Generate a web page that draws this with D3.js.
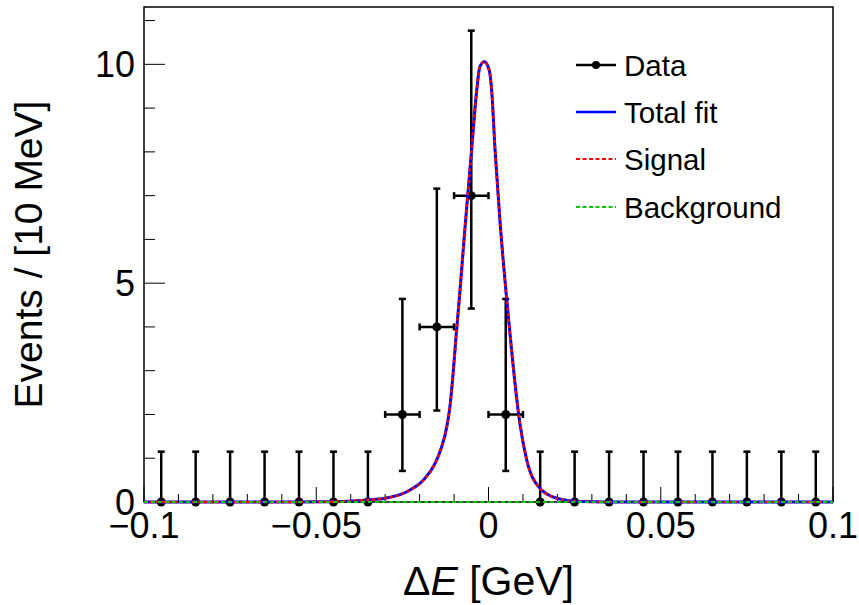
<!DOCTYPE html>
<html lang="en">
<head>
  <meta charset="UTF-8">
  <title>Delta E fit</title>
  <script src="https://d3js.org/d3.v7.min.js"></script>
  <style>
    body { margin: 0; background: #fff; }
    svg { display: block; font-family: "Liberation Sans", Arial, Helvetica, sans-serif; }
  </style>
</head>
<body>
<svg width="859" height="605"></svg>
<script>
// binned data: bin centres, counts and asymmetric (Poisson) error bar limits
const binCenters = [-0.095, -0.085, -0.075, -0.065, -0.055, -0.045, -0.035, -0.025, -0.015, -0.005,
                    0.005, 0.015, 0.025, 0.035, 0.045, 0.055, 0.065, 0.075, 0.085, 0.095];
const counts     = [0, 0, 0, 0, 0, 0, 0, 2, 4, 7, 2, 0, 0, 0, 0, 0, 0, 0, 0, 0];
const errLow     = [0, 0, 0, 0, 0, 0, 0, 0.71, 2.09, 4.42, 0.71, 0, 0, 0, 0, 0, 0, 0, 0, 0];
const errHigh    = [1.15, 1.15, 1.15, 1.15, 1.15, 1.15, 1.15, 4.64, 7.16, 10.77, 4.64,
                    1.15, 1.15, 1.15, 1.15, 1.15, 1.15, 1.15, 1.15, 1.15];
const binHalfWidth = 0.005;

// fitted curve (signal == total fit, background ~ 0)
const fitX = [-0.1, -0.06, -0.045, -0.0354, -0.030, -0.0237, -0.0189, -0.0155, -0.0136, -0.0121,
              -0.0112, -0.0102, -0.0094, -0.0085, -0.0068, -0.0049, -0.0034, -0.0025, -0.0012,
              0.0002, 0.0009, 0.0019, 0.0033, 0.0053, 0.0067, 0.0087, 0.0111, 0.0145, 0.0198,
              0.0266, 0.035, 0.1];
const fitY = [0, 0, 0.008, 0.046, 0.085, 0.235, 0.50, 0.88, 1.26, 1.72,
              2.18, 3.0, 3.8, 4.62, 6.29, 8.05, 9.42, 9.95, 10.06,
              9.87, 9.42, 8.05, 6.45, 4.62, 3.47, 2.03, 0.96, 0.35, 0.085,
              0.01, 0, 0];
const bkgX = [-0.1, 0.1];
const bkgY = [0, 0];

const xMajor = [-0.1, -0.05, 0, 0.05, 0.1];
const xLabels = ["\u22120.1", "\u22120.05", "0", "0.05", "0.1"];
const yMajor = [0, 5, 10];
const yLabels = ["0", "5", "10"];

const legendItems = ["Data", "Total fit", "Signal", "Background"];

const svg = d3.select("svg");
const margin = { left: 144, right: 26, top: 7, bottom: 103 };
const W = 859, H = 605;

const x = d3.scaleLinear().domain([-0.1, 0.1]).range([margin.left, W - margin.right]);
const y = d3.scaleLinear().domain([0, 11.31]).range([H - margin.bottom, margin.top]);

const g = svg.append("g");

// frame first, so curves at zero lie on top of it
g.append("rect")
  .attr("x", x(-0.1)).attr("y", y(11.31))
  .attr("width", x(0.1) - x(-0.1)).attr("height", y(0) - y(11.31))
  .attr("fill", "none").attr("stroke", "#000").attr("stroke-width", 1.5);

// minor + major ticks
const xMinor = d3.range(-0.1, 0.1001, 0.01).map(v => +v.toFixed(3));
const yMinor = d3.range(0, 12, 1);

g.selectAll(".xminor").data(xMinor).enter().append("line")
  .attr("x1", d => x(d)).attr("x2", d => x(d))
  .attr("y1", y(0)).attr("y2", d => y(0) - (xMajor.some(m => Math.abs(m - d) < 1e-6) ? 15 : 8))
  .attr("stroke", "#000").attr("stroke-width", 1);

g.selectAll(".yminor").data(yMinor).enter().append("line")
  .attr("y1", d => y(d)).attr("y2", d => y(d))
  .attr("x1", x(-0.1)).attr("x2", d => x(-0.1) + (yMajor.includes(d) ? 21 : 11))
  .attr("stroke", "#000").attr("stroke-width", 1);

// tick labels
g.selectAll(".xlab").data(xMajor).enter().append("text")
  .attr("x", d => x(d)).attr("y", 538)
  .attr("text-anchor", "middle").attr("font-size", 36)
  .text((d, i) => xLabels[i]);

g.selectAll(".ylab").data(yMajor).enter().append("text")
  .attr("x", 135).attr("y", d => y(d)).attr("dy", "0.36em")
  .attr("text-anchor", "end").attr("font-size", 36)
  .text((d, i) => yLabels[i]);

// axis titles
const xt = g.append("text")
  .attr("x", (x(-0.1) + x(0.1)) / 2).attr("y", 595)
  .attr("text-anchor", "middle").attr("font-size", 41);
xt.append("tspan").text("\u0394");
xt.append("tspan").attr("font-style", "italic").text("E");
xt.append("tspan").text(" [GeV]");

g.append("text")
  .attr("transform", `translate(42,${(y(0) + y(11.31)) / 2}) rotate(-90)`)
  .attr("text-anchor", "middle").attr("font-size", 39)
  .text("Events / [10 MeV]");

// data points with error bars
const pts = binCenters.map((c, i) => ({ c, n: counts[i], lo: errLow[i], hi: errHigh[i] }));
const dg = g.append("g").attr("stroke", "#000").attr("stroke-width", 2.5);
pts.forEach(p => {
  const px = x(p.c);
  dg.append("line").attr("x1", px).attr("x2", px).attr("y1", y(p.lo)).attr("y2", y(p.hi));
  dg.append("line").attr("x1", px - 3.5).attr("x2", px + 3.5).attr("y1", y(p.hi)).attr("y2", y(p.hi));
  if (p.n > 0) {
    dg.append("line").attr("x1", px - 3.5).attr("x2", px + 3.5).attr("y1", y(p.lo)).attr("y2", y(p.lo));
    const xl = x(p.c - binHalfWidth), xr = x(p.c + binHalfWidth);
    dg.append("line").attr("x1", xl).attr("x2", xr).attr("y1", y(p.n)).attr("y2", y(p.n));
    dg.append("line").attr("x1", xl).attr("x2", xl).attr("y1", y(p.n) - 3.5).attr("y2", y(p.n) + 3.5);
    dg.append("line").attr("x1", xr).attr("x2", xr).attr("y1", y(p.n) - 3.5).attr("y2", y(p.n) + 3.5);
  }
});
g.selectAll(".pt").data(pts).enter().append("circle")
  .attr("cx", d => x(d.c)).attr("cy", d => y(d.n)).attr("r", 4.5).attr("fill", "#000");

// curves
const line = d3.line().x(d => x(d[0])).y(d => y(d[1])).curve(d3.curveMonotoneX);
const fitPts = fitX.map((v, i) => [v, fitY[i]]);
const bkgPts = bkgX.map((v, i) => [v, bkgY[i]]);

g.append("path").attr("d", line(fitPts)).attr("fill", "none")
  .attr("stroke", "#0000ff").attr("stroke-width", 3);
g.append("path").attr("d", line(fitPts)).attr("fill", "none")
  .attr("stroke", "#ff0000").attr("stroke-width", 2.6).attr("stroke-dasharray", "3,3");
g.append("path").attr("d", line(bkgPts)).attr("fill", "none")
  .attr("stroke", "#00c800").attr("stroke-width", 2).attr("stroke-dasharray", "4,3");

// legend
const legY = [65, 112, 159, 207];
const lx1 = 576, lx2 = 616;
const leg = g.append("g");
legendItems.forEach((name, i) => {
  const yy = legY[i];
  const l = leg.append("line").attr("x1", lx1).attr("x2", lx2).attr("y1", yy).attr("y2", yy);
  if (i === 0) {
    l.attr("stroke", "#000").attr("stroke-width", 2.5);
    leg.append("circle").attr("cx", (lx1 + lx2) / 2).attr("cy", yy).attr("r", 4).attr("fill", "#000");
  } else if (i === 1) {
    l.attr("stroke", "#0000ff").attr("stroke-width", 2.5);
  } else {
    l.attr("stroke", i === 2 ? "#ff0000" : "#00c800").attr("stroke-width", 2).attr("stroke-dasharray", "4,2.5");
  }
  leg.append("text").attr("x", 624).attr("y", yy).attr("dy", "0.36em")
    .attr("font-size", 29.5).text(name);
});
</script>
</body>
</html>
